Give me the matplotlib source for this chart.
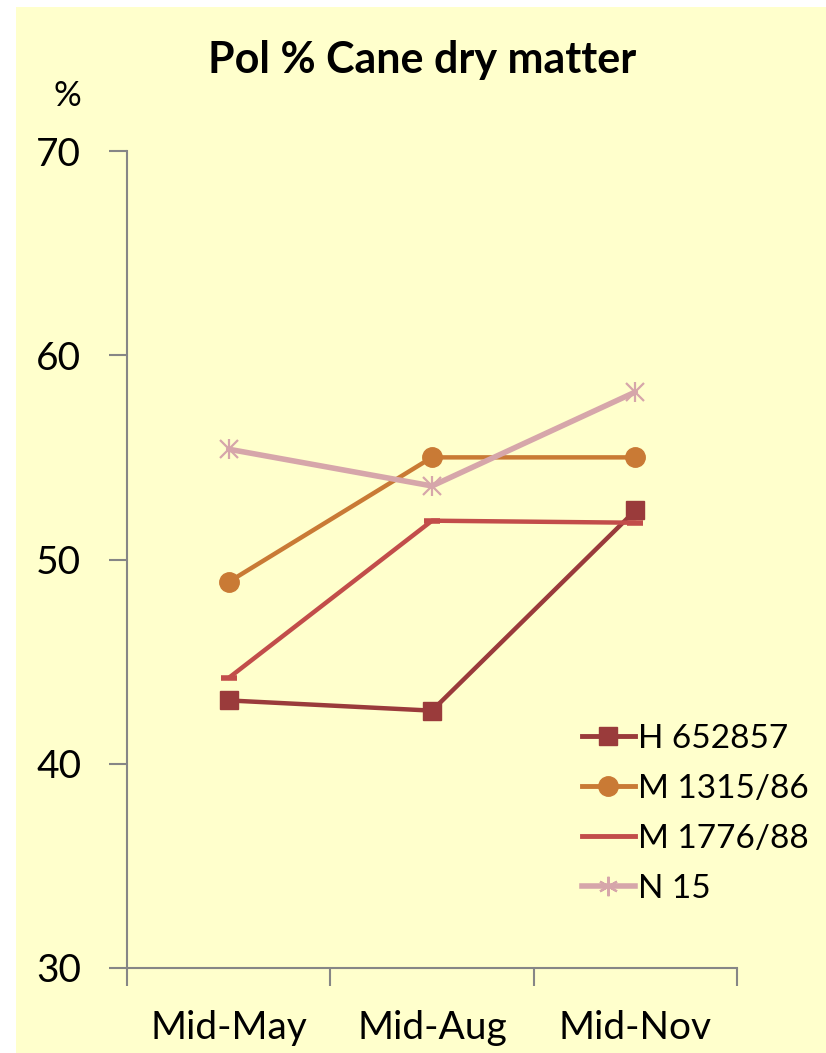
import matplotlib
matplotlib.use("Agg")
import matplotlib.pyplot as plt
from matplotlib.patches import Rectangle
from matplotlib.lines import Line2D

# Data
categories = ["Mid-May", "Mid-Aug", "Mid-Nov"]
h652857 = [43.1, 42.6, 52.4]
m1315_86 = [48.9, 55.0, 55.0]
m1776_88 = [44.2, 51.9, 51.8]
n15 = [55.4, 53.6, 58.2]
series_names = ["H 652857", "M 1315/86", "M 1776/88", "N 15"]
y_ticks = [30, 40, 50, 60, 70]

W, H = 826, 1053
fig = plt.figure(figsize=(W / 100, H / 100), dpi=100, facecolor="white")

# pale yellow chart area
fig.patches.append(Rectangle((16 / W, 0), 1 - 16 / W, 1 - 7 / H,
                             transform=fig.transFigure, facecolor="#FFFFCC",
                             edgecolor="none", zorder=-10))

font = ["Lato", "DejaVu Sans"]
ax = fig.add_axes([127 / W, 1 - 968 / H, (737 - 127) / W, (968 - 151) / H])
ax.set_facecolor("none")
ax.set_zorder(5)

x = list(range(len(categories)))
styles = [
    (h652857, dict(color="#9A3B3B", marker="s", markersize=13, lw=3.2)),
    (m1315_86, dict(color="#C97A35", marker="o", markersize=14, lw=3.2)),
    (m1776_88, dict(color="#C24D4A", marker="_", markersize=11, mew=4, lw=3.2)),
    (n15, dict(color="#D6A6AA", marker="x", markersize=13, mew=1.6, lw=4)),
]
for (vals, st), name in zip(styles, series_names):
    ax.plot(x, vals, solid_capstyle="round", label=name, **st)
    # asterisk look for N 15 marker
    if st["marker"] == "x":
        ax.plot(x, vals, linestyle="none", marker="|", markersize=15,
                mew=1.6, color=st["color"])

ax.set_xlim(-0.5, 2.5)
ax.set_ylim(30, 70)
ax.set_yticks(y_ticks)
ax.set_xticks(x)
ax.set_xticklabels(categories)
ax.set_xticks([-0.5, 0.5, 1.5, 2.5], minor=True)
ax.tick_params(axis="x", which="major", length=0, pad=30, labelsize=28)
ax.tick_params(axis="x", which="minor", length=13, width=1.5, color="#868686",
               direction="out")
ax.tick_params(axis="y", length=13, width=1.5, color="#868686", pad=20,
               labelsize=28)
for lab in ax.get_xticklabels() + ax.get_yticklabels():
    lab.set_family(font)
for s in ["top", "right"]:
    ax.spines[s].set_visible(False)
for s in ["left", "bottom"]:
    ax.spines[s].set_color("#868686")
    ax.spines[s].set_linewidth(1.5)

fig.text(422 / W, 1 - 60 / H, "Pol % Cane dry matter", ha="center",
         va="center", fontsize=31, fontweight="bold", family=font)
fig.text(67 / W, 1 - 96 / H, "%", ha="center", va="center", fontsize=25,
         family=font)

# legend
leg_h = [
    Line2D([], [], color="#9A3B3B", marker="s", markersize=13, lw=3.5),
    Line2D([], [], color="#C97A35", marker="o", markersize=14, lw=3.5),
    Line2D([], [], color="#C24D4A", lw=3.5),
    Line2D([], [], color="#D6A6AA", marker=(6, 2, 0), markersize=14,
           mew=1.6, lw=4),
]
fig.legend(leg_h, series_names, loc="upper left",
           bbox_to_anchor=(565 / W, 1 - 707 / H), frameon=False,
           prop={"family": font, "size": 24}, handlelength=1.6,
           handletextpad=0.1, labelspacing=0.6, borderpad=0)

fig.savefig("out.png", dpi=100, facecolor="white")
